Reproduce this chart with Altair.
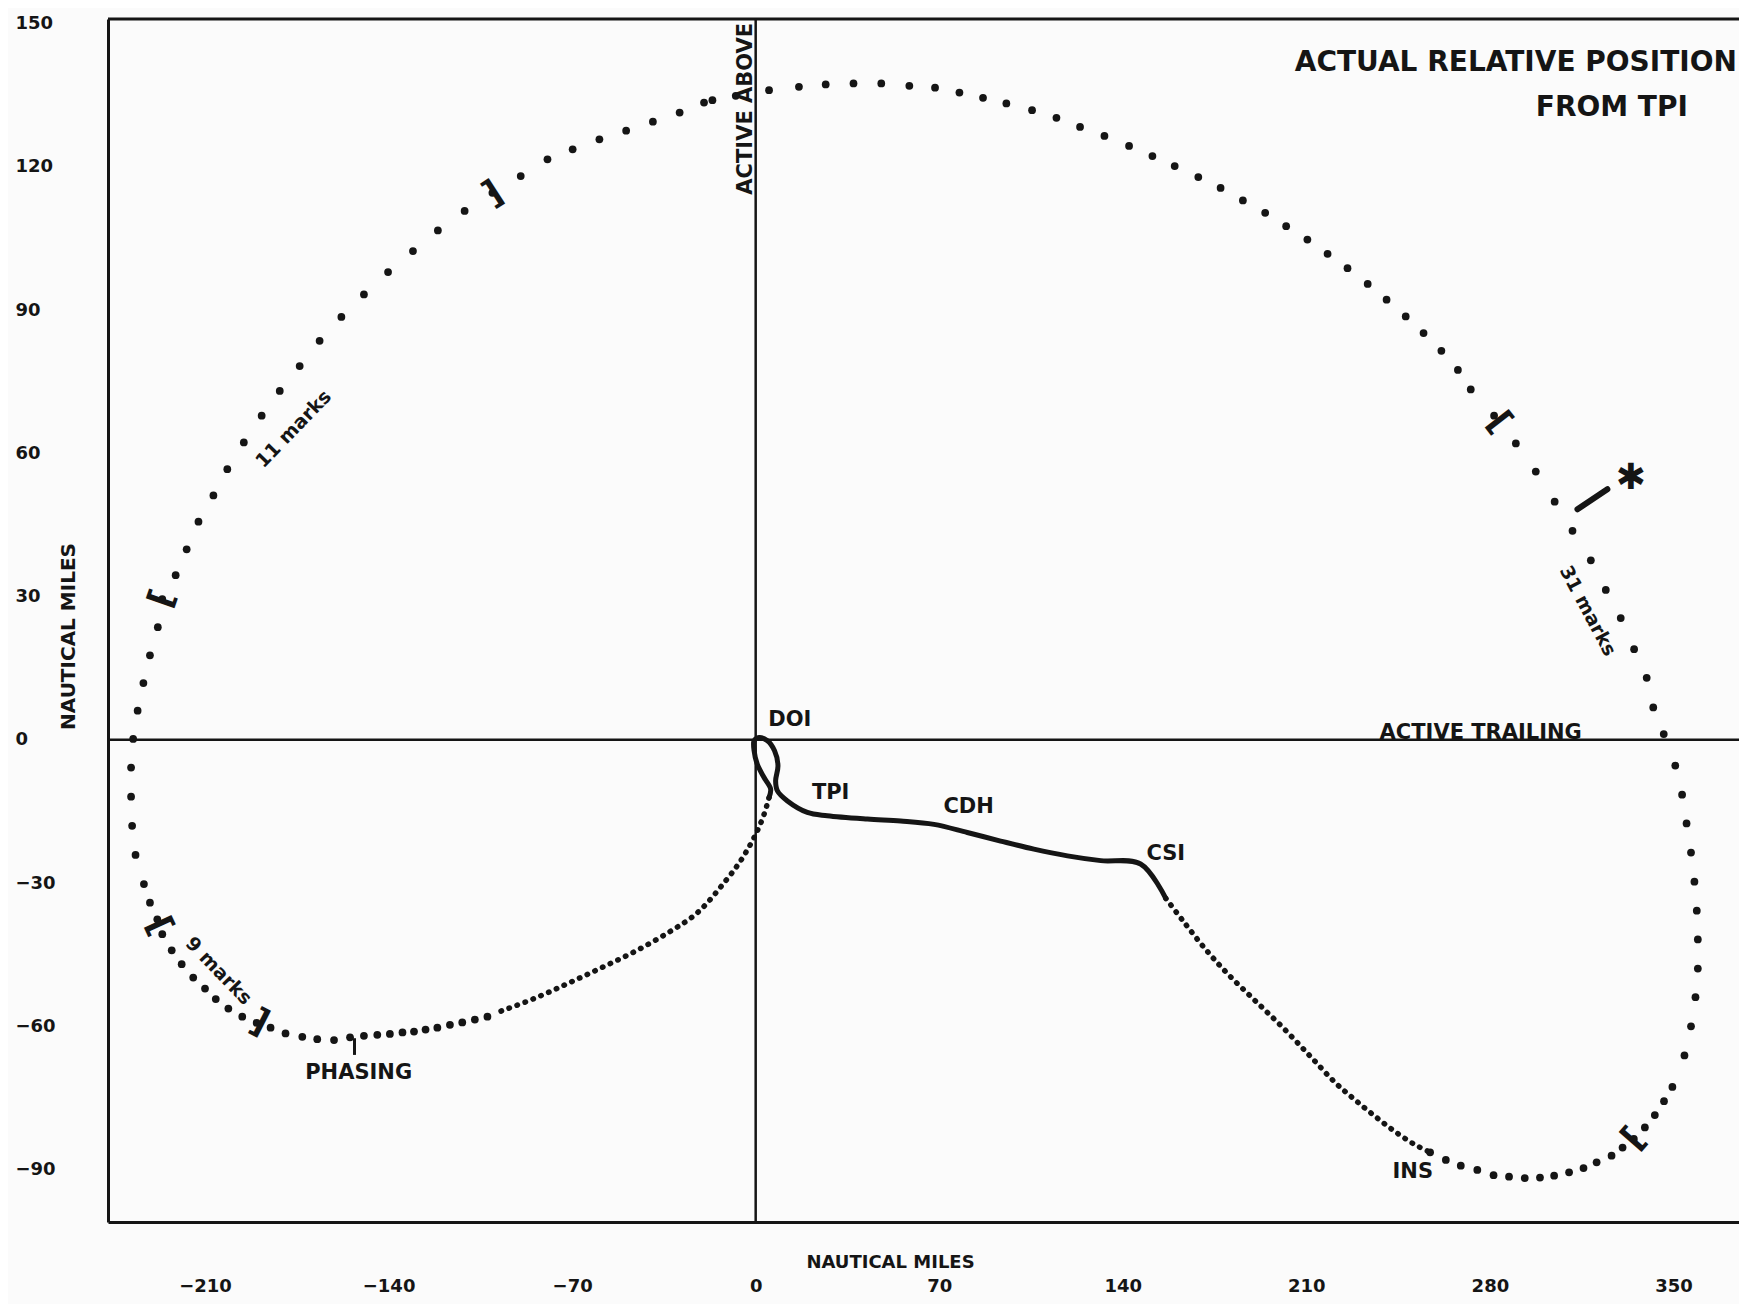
import altair as alt
import pandas as pd

INK = "#151515"
PAPER = "#fbfbfb"
FONT = "DejaVu Sans"

# ---------------- axes ----------------
X_DOMAIN = [-247, 375]
Y_DOMAIN = [-101, 151]
X_TICKS = [-210, -140, -70, 0, 70, 140, 210, 280, 350]
Y_TICKS = [-90, -60, -30, 0, 30, 60, 90, 120, 150]

# ---------------- time-mark dots on the big loop (nautical miles) ----------------
mark_x = [-102.3, -107.1, -111.9, -116.6, -121.4, -125.9, -130.3, -134.7, -139.5, -144.3,
          -149.4, -154.7, -160.8, -167.2, -172.9, -179.3, -185.0, -190.3, -195.8, -201.1,
          -205.9, -210.0, -214.5, -218.9, -222.7, -226.3, -228.2, -231.0, -233.3, -236.5,
          -237.8, -238.2, -238.2, -237.4, -235.7, -233.5, -231.0, -228.0, -226.3, -221.2,
          -217.0, -212.5, -206.8, -201.5, -195.2, -188.4, -181.5, -173.9, -166.3, -158.0,
          -149.4, -140.2, -130.7, -121.2, -111.0, -100.4, -89.6, -79.4, -69.8, -59.6,
          -49.4, -39.2, -29.0, -19.7, -16.5, -7.6, 5.1, 16.5, 26.7, 37.3,
          47.9, 58.6, 68.4, 77.7, 86.7, 95.6, 105.4, 114.7, 123.7, 133.0,
          142.4, 151.3, 159.8, 168.8, 177.3, 185.8, 194.3, 202.3, 210.4, 218.1,
          225.7, 233.4, 240.6, 247.9, 254.7, 261.5, 267.8, 272.7, 281.6, 289.9,
          297.5, 304.7, 311.5, 318.5, 324.2, 329.9, 335.0, 339.8, 342.3, 346.3,
          350.7, 353.3, 355.0, 356.7, 358.0, 358.9, 359.3, 359.3, 358.4, 356.7,
          354.2, 349.6, 346.4, 342.9, 339.1, 334.9, 330.6, 326.4, 320.7, 315.7,
          310.2, 304.5, 299.1, 293.3, 287.3, 281.4, 275.2, 268.9, 263.2, 257.2]
mark_y = [-58.0, -58.6, -59.2, -59.7, -60.3, -60.7, -61.1, -61.3, -61.6, -61.8,
          -62.0, -62.3, -62.9, -62.7, -62.2, -61.5, -60.3, -59.3, -58.0, -56.3,
          -54.3, -52.1, -49.8, -47.0, -44.1, -40.7, -37.6, -34.1, -30.2, -24.1,
          -18.0, -11.9, -5.8, 0.2, 6.1, 11.9, 17.7, 23.6, 29.5, 34.5,
          39.9, 45.7, 51.2, 56.7, 62.3, 67.9, 73.1, 78.3, 83.6, 88.6,
          93.3, 98.0, 102.4, 106.7, 110.8, 114.6, 118.1, 121.6, 123.7, 125.8,
          127.6, 129.5, 131.4, 133.5, 134.0, 134.9, 136.1, 136.8, 137.3, 137.5,
          137.5, 137.0, 136.6, 135.6, 134.5, 133.3, 131.9, 130.3, 128.4, 126.5,
          124.4, 122.3, 120.2, 117.9, 115.6, 113.0, 110.4, 107.6, 104.8, 101.8,
          98.8, 95.5, 92.2, 88.7, 85.2, 81.5, 77.5, 73.4, 67.9, 62.1,
          56.2, 49.9, 43.8, 37.6, 31.4, 25.5, 19.0, 13.0, 6.8, 1.2,
          -5.4, -11.5, -17.5, -23.6, -29.7, -35.8, -41.8, -47.9, -53.9, -60.0,
          -66.1, -72.7, -75.7, -78.6, -81.2, -83.6, -85.4, -87.1, -88.5, -89.7,
          -90.6, -91.3, -91.7, -91.8, -91.5, -91.2, -90.1, -89.2, -88.0, -86.4]

# ---------------- densely dotted arcs ----------------
phase_arc_x = [5.1, 3.2, 0.6, -1.9, -5.7, -11.4, -22.2, -32.8, -45.6, -58.3, -71.1, -84.5, -98.5]
phase_arc_y = [-12.1, -15.6, -19.1, -21.8, -25.3, -29.5, -36.2, -40.2, -44.2, -47.6, -50.9, -54.2, -57.1]
ins_arc_x = [156.4, 162.8, 171.3, 179.8, 190.4, 201.1, 211.7, 221.0, 228.3, 235.6, 243.4, 251.1, 257.2]
ins_arc_y = [-33.2, -37.8, -43.7, -48.9, -54.6, -60.3, -66.4, -71.8, -75.3, -78.6, -81.9, -84.7, -86.4]

# ---------------- solid path CSI -> CDH -> TPI -> loop at DOI ----------------
solid_x = [156.4, 146.8, 131.6, 118.9, 106.1, 93.4, 80.7, 68.0, 55.3, 42.6, 27.3, 19.7, 12.1,
           8.3, 7.6, 8.5, 7.2, 4.5, 1.3, -0.6, -0.6, 0.6, 3.2, 5.7, 5.1]
solid_y = [-33.2, -26.0, -25.3, -24.3, -22.9, -21.2, -19.4, -17.7, -17.0, -16.6, -15.9, -15.2, -12.8,
           -10.7, -8.6, -5.4, -2.3, -0.2, 0.5, -0.2, -2.3, -5.1, -7.9, -10.3, -12.1]

# ---------------- annotations ----------------
event_names = ["DOI", "TPI", "CDH", "CSI", "INS", "PHASING"]
event_x = [13.0, 28.6, 81.2, 156.4, 250.6, -151.4]
event_y = [4.2, -11.1, -14.0, -23.9, -90.5, -69.7]

bracket_x = [-226.3, -100.4, 283.5, -227.5, -189.0, 334.9]
bracket_y = [29.5, 114.6, 66.5, -39.0, -59.0, -83.6]
bracket_angle = [289, 147, 52, 65, 207, 311]

count_text = ["11 marks", "9 marks", "31 marks"]
count_x = [-176.2, -204.8, 317.3]
count_y = [65.1, -48.4, 27.0]
count_angle = [314, 46, 62]

title_lines = ["ACTUAL RELATIVE POSITION", "FROM TPI"]
title_x = [289.9, 326.5]
title_y = [141.8, 132.4]

star_x, star_y = [333.7], [54.9]
dash_x, dash_y, dash_x2, dash_y2 = [313.4], [48.3], [324.8], [52.5]
phase_tick_x, phase_tick_y, phase_tick_y2 = [-153.0], [-62.5], [-66.0]

# ---------------- scales / axes ----------------
xs = alt.Scale(domain=X_DOMAIN, nice=False, zero=False)
ys = alt.Scale(domain=Y_DOMAIN, nice=False, zero=False)

x_axis = alt.Axis(values=X_TICKS, grid=False, ticks=False, tickSize=0,
                  domain=True, domainColor=INK, domainWidth=3,
                  labelFlush=False, labelOverlap=False, labelPadding=64,
                  labelBaseline="middle", labelAlign="center",
                  labelFont=FONT, labelFontSize=18, labelFontWeight="bold", labelColor=INK,
                  titleFont=FONT, titleFontSize=18, titleFontWeight="bold", titleColor=INK,
                  titleX=782, titleY=40, titleAlign="center", titleBaseline="middle", titleAngle=0)
y_axis = alt.Axis(values=Y_TICKS, grid=False, ticks=False, tickSize=0,
                  domain=True, domainColor=INK, domainWidth=3,
                  labelFlush=False, labelOverlap=False, labelPadding=93,
                  labelBaseline="middle", labelAlign="left",
                  labelFont=FONT, labelFontSize=18, labelFontWeight="bold", labelColor=INK,
                  titleFont=FONT, titleFontSize=20, titleFontWeight="bold", titleColor=INK,
                  titleX=-40, titleY=617, titleAlign="center", titleBaseline="middle", titleAngle=270)


def X(f="x"):
    return alt.X(f"{f}:Q", scale=xs, axis=x_axis, title="NAUTICAL MILES")


def Y(f="y"):
    return alt.Y(f"{f}:Q", scale=ys, axis=y_axis, title="NAUTICAL MILES")


# ---------------- layers ----------------
top_border = alt.Chart(pd.DataFrame({"y": [Y_DOMAIN[1]]})).mark_rule(color=INK, strokeWidth=3).encode(y=Y())
vzero = alt.Chart(pd.DataFrame({"x": [0]})).mark_rule(color=INK, strokeWidth=2.5).encode(x=X())
hzero = alt.Chart(pd.DataFrame({"y": [0]})).mark_rule(color=INK, strokeWidth=2.5).encode(y=Y())

solid_df = pd.DataFrame({"x": solid_x, "y": solid_y, "i": range(len(solid_x))})
solid = alt.Chart(solid_df).mark_line(color=INK, strokeWidth=5, strokeCap="round",
                                      strokeJoin="round", interpolate="catmull-rom").encode(
    x=X(), y=Y(), order=alt.Order("i:Q"))

dense_df = pd.concat([
    pd.DataFrame({"x": phase_arc_x, "y": phase_arc_y, "i": range(len(phase_arc_x)), "seg": "phase"}),
    pd.DataFrame({"x": ins_arc_x, "y": ins_arc_y, "i": range(len(ins_arc_x)), "seg": "ins"}),
])
dense = alt.Chart(dense_df).mark_line(color=INK, strokeWidth=5.5, strokeCap="round",
                                      strokeDash=[0.5, 8], interpolate="catmull-rom").encode(
    x=X(), y=Y(), detail="seg:N", order=alt.Order("i:Q"))

dots = alt.Chart(pd.DataFrame({"x": mark_x, "y": mark_y})).mark_circle(
    color=INK, size=60, opacity=1).encode(x=X(), y=Y())

brackets = alt.Chart(pd.DataFrame({"x": bracket_x, "y": bracket_y, "a": bracket_angle,
                                   "t": ["["] * len(bracket_x)})).mark_text(
    font=FONT, fontSize=34, fontWeight="bold", color=INK, align="center", baseline="middle").encode(
    x=X(), y=Y(), text="t:N", angle=alt.Angle("a:Q", scale=None))

events = alt.Chart(pd.DataFrame({"x": event_x, "y": event_y, "t": event_names})).mark_text(
    font=FONT, fontSize=21, fontWeight="bold", color=INK, align="center", baseline="middle").encode(
    x=X(), y=Y(), text="t:N")

counts = alt.Chart(pd.DataFrame({"x": count_x, "y": count_y, "t": count_text, "a": count_angle})).mark_text(
    font=FONT, fontSize=19, fontWeight="bold", color=INK, align="center", baseline="middle").encode(
    x=X(), y=Y(), text="t:N", angle=alt.Angle("a:Q", scale=None))

titles = alt.Chart(pd.DataFrame({"x": title_x, "y": title_y, "t": title_lines})).mark_text(
    font=FONT, fontSize=28, fontWeight="bold", color=INK, align="center", baseline="middle").encode(
    x=X(), y=Y(), text="t:N")

above = alt.Chart(pd.DataFrame({"x": [-3.8], "y": [132.2], "t": ["ACTIVE ABOVE"]})).mark_text(
    font=FONT, fontSize=21, fontWeight="bold", color=INK, align="center", baseline="middle",
    angle=270).encode(x=X(), y=Y(), text="t:N")

trailing = alt.Chart(pd.DataFrame({"x": [276.5], "y": [0], "t": ["ACTIVE TRAILING"]})).mark_text(
    font=FONT, fontSize=21, fontWeight="bold", color=INK, align="center", baseline="alphabetic",
    dy=-1).encode(x=X(), y=Y(), text="t:N")

star = alt.Chart(pd.DataFrame({"x": star_x, "y": star_y, "t": ["\u2731"]})).mark_text(
    font=FONT, fontSize=36, fontWeight="bold", color=INK, align="center", baseline="middle").encode(
    x=X(), y=Y(), text="t:N")

dash = alt.Chart(pd.DataFrame({"x": dash_x, "y": dash_y, "x2": dash_x2, "y2": dash_y2})).mark_rule(
    color=INK, strokeWidth=6, strokeCap="round").encode(x=X(), y=Y(), x2="x2:Q", y2="y2:Q")

phase_tick = alt.Chart(pd.DataFrame({"x": phase_tick_x, "y": phase_tick_y, "y2": phase_tick_y2})).mark_rule(
    color=INK, strokeWidth=3).encode(x=X(), y=Y(), y2="y2:Q")

chart = alt.layer(
    top_border, vzero, hzero, dense, solid, dots, brackets, events, counts, titles, above, trailing,
    star, dash, phase_tick
).properties(
    width=1631, height=1203, background=PAPER,
    autosize=alt.AutoSizeParams(type="none"),
    padding={"left": 100, "top": 11, "right": 0, "bottom": 82},
).configure_view(strokeWidth=0)

chart.save("out.html", embed_options={"renderer": "svg", "actions": False})
